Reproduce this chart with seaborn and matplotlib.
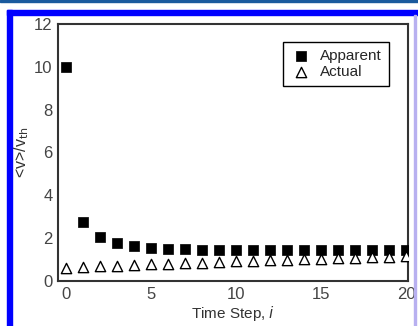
import numpy as np
import pandas as pd
import matplotlib
matplotlib.use('Agg')
import matplotlib.pyplot as plt
import seaborn as sns
from matplotlib.patches import Rectangle

# ── data ────────────────────────────────────────────────────────────────────
steps = list(range(21))
apparent = [10.0, 2.75, 2.05, 1.78, 1.63, 1.55, 1.51, 1.48, 1.46, 1.45, 1.44,
            1.44, 1.44, 1.44, 1.45, 1.45, 1.45, 1.46, 1.46, 1.47, 1.47]
actual = [0.63, 0.66, 0.69, 0.72, 0.75, 0.78, 0.81, 0.84, 0.86, 0.89, 0.92,
          0.94, 0.97, 0.99, 1.02, 1.04, 1.07, 1.09, 1.11, 1.13, 1.16]
series = ['Apparent', 'Actual']

df = pd.DataFrame({'step': steps * 2,
                   'value': apparent + actual,
                   'series': [series[0]] * len(steps) + [series[1]] * len(steps)})

sns.set_style('white')
plt.rcParams['font.family'] = ['Liberation Sans', 'DejaVu Sans']

W, H = 418, 326
fig = plt.figure(figsize=(W / 100, H / 100), dpi=100)

# page frame decoration (blue border of the source figure)
def px_rect(x0, y0, w, h, color):
    fig.patches.append(Rectangle((x0 / W, 1 - (y0 + h) / H), w / W, h / H,
                                 transform=fig.transFigure, color=color, zorder=0))

px_rect(0, 0, W, 2, '#1a5a9e')
px_rect(7, 10, W - 7, 5, '#0000ff')
px_rect(7, 10, 5, H - 10, '#0000ff')
px_rect(414, 15, 2, H - 15, '#b8b0f0')

ax = fig.add_axes([58 / W, 1 - 281 / H, 350 / W, 257 / H])

sub = df[df.series == 'Apparent']
sns.scatterplot(data=sub, x='step', y='value', ax=ax, marker='s', s=42,
                color='black', edgecolor='black', linewidth=0.5, label='Apparent', zorder=3)
sub = df[df.series == 'Actual']
sns.scatterplot(data=sub, x='step', y='value', ax=ax, marker='^', s=55,
                facecolor='white', edgecolor='black', linewidth=1.0, label='Actual', zorder=3)

ax.set_xlim(-0.5, 20.1)
ax.set_ylim(0, 12)
ax.set_xticks([0, 5, 10, 15, 20])
ax.set_yticks([0, 2, 4, 6, 8, 10, 12])
ax.tick_params(direction='in', length=5, width=1.2, colors='#333333',
               labelsize=12, labelcolor='#444444', pad=4)
for sp in ax.spines.values():
    sp.set_color('#333333')
    sp.set_linewidth(1.5)

ax.set_xlabel('Time Step, $i$', fontsize=11, color='#333333', labelpad=2)
ax.set_ylabel(r'<v>/v$_{\mathrm{th}}$', fontsize=11.5, color='#333333', labelpad=2)

leg = ax.legend(loc='upper right', bbox_to_anchor=(0.945, 0.93), fontsize=11,
                frameon=True, fancybox=False, framealpha=1, edgecolor='black',
                handletextpad=0.5, borderpad=0.45, labelspacing=0.15, handlelength=1.5,
                borderaxespad=0)
leg.get_frame().set_linewidth(1.0)

fig.savefig('out.png', dpi=100)
